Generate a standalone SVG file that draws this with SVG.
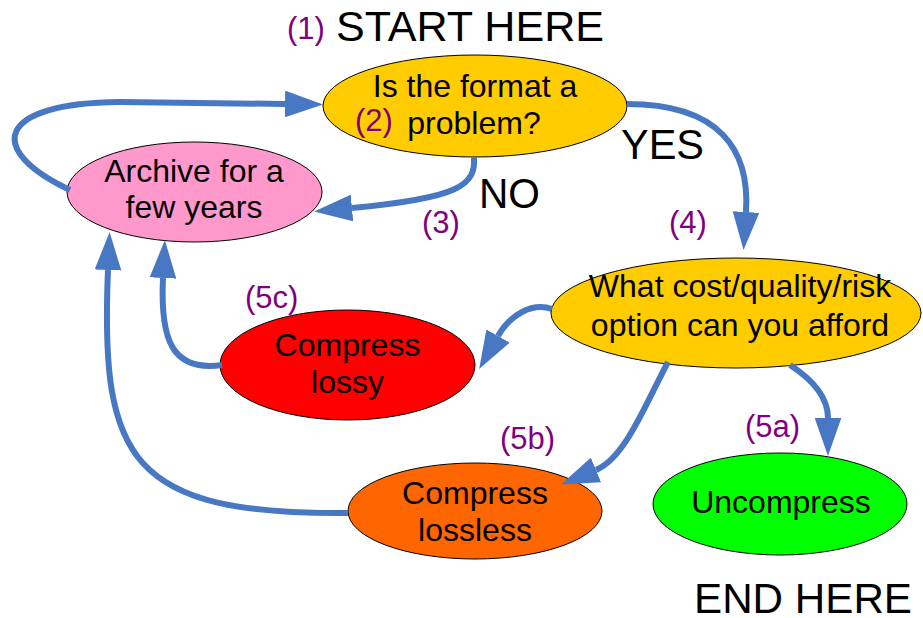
<svg xmlns="http://www.w3.org/2000/svg" width="923" height="618" viewBox="0 0 923 618">
<style>
.node{stroke:#000;stroke-width:1}
.t{font-family:"Liberation Sans",Arial,sans-serif;font-size:32px;fill:#000;text-anchor:middle}
.big{font-family:"Liberation Sans",Arial,sans-serif;font-size:42px;fill:#000}
.lab{font-family:"Liberation Sans",Arial,sans-serif;font-size:31px;fill:#800080}
.c{fill:none;stroke:#4878c4;stroke-width:6;marker-end:url(#ah)}
</style>
<defs>
<marker id="ah" markerUnits="userSpaceOnUse" markerWidth="38" markerHeight="27" viewBox="0 0 37 26" refX="0" refY="13" orient="auto">
<path d="M0,0 L37,13 L0,26 z" fill="#4878c4"/>
</marker>
</defs>
<rect width="923" height="618" fill="#fff"/>

<g id="node-format">
<ellipse class="node" cx="475" cy="106" rx="152" ry="51" fill="#ffcc00"/>
<text class="t" x="475" y="97">Is the format a</text>
<text class="t" x="474" y="134">problem?</text>
</g>
<g id="node-archive">
<ellipse class="node" cx="194.5" cy="192" rx="127.5" ry="50" fill="#ff99cc"/>
<text class="t" x="194" y="182">Archive for a</text>
<text class="t" x="194" y="218">few years</text>
</g>
<g id="node-option">
<ellipse class="node" cx="736" cy="313" rx="185" ry="55" fill="#ffcc00"/>
<text class="t" x="740" y="297">What cost/quality/risk</text>
<text class="t" x="740" y="336">option can you afford</text>
</g>
<g id="node-lossy">
<ellipse class="node" cx="347.5" cy="365" rx="127.5" ry="55" fill="#ff0000"/>
<text class="t" x="347.5" y="356">Compress</text>
<text class="t" x="347.5" y="393">lossy</text>
</g>
<g id="node-lossless">
<ellipse class="node" cx="475" cy="511" rx="127" ry="48" fill="#ff6600"/>
<text class="t" x="475" y="504">Compress</text>
<text class="t" x="475" y="541">lossless</text>
</g>
<g id="node-uncompress">
<ellipse class="node" cx="780" cy="504" rx="127" ry="51" fill="#00ff00"/>
<text class="t" x="781" y="513">Uncompress</text>
</g>

<g id="labels">
<text class="lab" x="287" y="39">(1)</text>
<text class="big" x="336" y="41" textLength="268" lengthAdjust="spacingAndGlyphs">START HERE</text>
<text class="lab" x="355" y="131">(2)</text>
<text class="big" x="621" y="159" textLength="83" lengthAdjust="spacingAndGlyphs">YES</text>
<text class="big" x="479" y="208" textLength="61" lengthAdjust="spacingAndGlyphs">NO</text>
<text class="lab" x="422" y="233">(3)</text>
<text class="lab" x="669" y="233">(4)</text>
<text class="lab" x="245" y="308">(5c)</text>
<text class="lab" x="500" y="449">(5b)</text>
<text class="lab" x="745" y="437">(5a)</text>
<text class="big" x="694" y="613" textLength="218" lengthAdjust="spacingAndGlyphs">END HERE</text>
</g>

<g id="connectors">
<path class="c" d="M 70,190 C -15,150 -5,103 120,102 L 285,104"/>
<path class="c" d="M 474,157 C 476,185 460,198 352,208"/>
<path class="c" d="M 627,104 C 720,104 750,150 746,212"/>
<path class="c" d="M 552,309 C 532,302 510,315 498,336"/>
<path class="c" d="M 668,362 C 645,405 625,458 596,470"/>
<path class="c" d="M 790,365 C 810,378 828,395 828,418"/>
<path class="c" d="M 222,365 C 172,372 160,340 163,278"/>
<path class="c" d="M 348,513 C 130,515 100,460 108,270"/>
</g>
</svg>
